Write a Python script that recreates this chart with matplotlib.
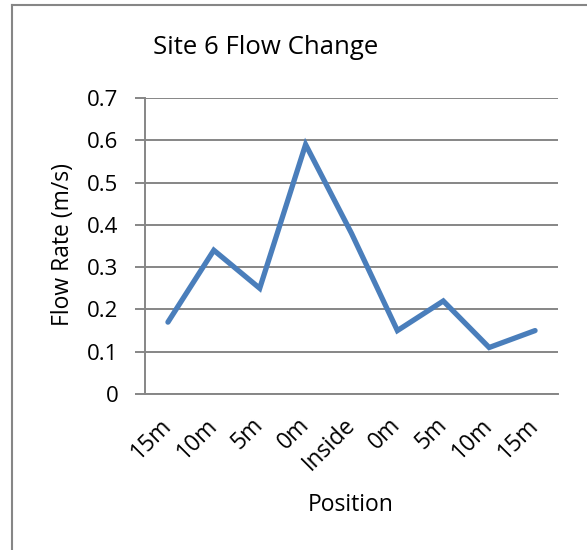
import matplotlib
matplotlib.use("Agg")
import matplotlib.pyplot as plt
from matplotlib.lines import Line2D

## 1. Data
positions = ["15m", "10m", "5m", "0m", "Inside", "0m", "5m", "10m", "15m"]
flow_rate = [0.17, 0.34, 0.25, 0.59, 0.38, 0.15, 0.22, 0.11, 0.15]
y_ticks = [0, 0.1, 0.2, 0.3, 0.4, 0.5, 0.6, 0.7]

LINE_COLOR = "#4A7EBB"
GRID_COLOR = "#868686"

plt.rcParams["font.family"] = ["Open Sans", "DejaVu Sans"]

## 2. Figure and plot area placed like the original
fig = plt.figure(figsize=(5.87, 5.5), dpi=100)
ax = fig.add_axes([0.247, 0.2836, 0.7036, 0.5382])

x = list(range(len(positions)))
ax.plot(x, flow_rate, color=LINE_COLOR, linewidth=3.8, solid_joinstyle="miter",
        solid_capstyle="round", zorder=3)

ax.set_xlim(-0.5, len(positions) - 0.5)
ax.set_ylim(0, 0.7)
ax.set_yticks(y_ticks)
ax.set_yticklabels([f"{v:g}" for v in y_ticks], fontsize=16)
ax.set_xticks(x)
ax.set_xticklabels(positions, fontsize=16.5, rotation=45, ha="right",
                   va="center", rotation_mode="anchor")

ax.yaxis.grid(True, color=GRID_COLOR, linewidth=1.4)
ax.set_axisbelow(True)
for side in ["top", "right"]:
    ax.spines[side].set_visible(False)
for side in ["left", "bottom"]:
    ax.spines[side].set_color(GRID_COLOR)
    ax.spines[side].set_linewidth(1.4)
ax.tick_params(axis="y", length=7, width=1.4, color=GRID_COLOR, pad=12)
ax.tick_params(axis="x", length=0, pad=20)

## 3. Titles as free text, like the Excel layout
fig.text(0.453, 0.9145, "Site 6 Flow Change", fontsize=18.5, ha="center", va="center")
fig.text(0.107, 0.556, "Flow Rate (m/s)", fontsize=16.5, rotation=90,
         ha="center", va="center")
fig.text(0.598, 0.082, "Position", fontsize=16.5, ha="center", va="center")

## 4. Chart border (left and top edges visible)
fig.add_artist(Line2D([12 / 587, 12 / 587], [0, 1 - 5 / 550], color=GRID_COLOR,
                      linewidth=1.5, transform=fig.transFigure))
fig.add_artist(Line2D([12 / 587, 1], [1 - 5 / 550, 1 - 5 / 550], color=GRID_COLOR,
                      linewidth=1.5, transform=fig.transFigure))

plt.savefig("out.png", dpi=100)
